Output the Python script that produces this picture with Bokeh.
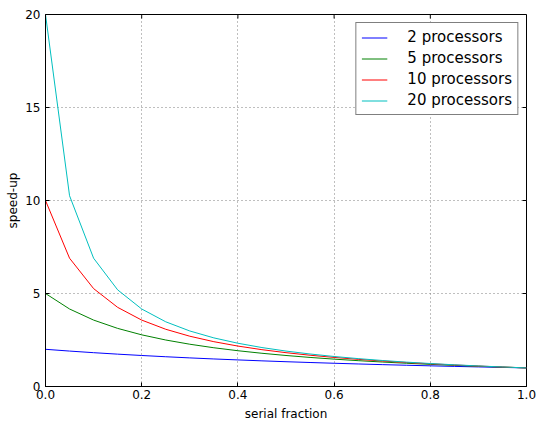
import math
from bokeh.plotting import figure
from bokeh.models import Range1d, FixedTicker, Legend, LegendItem, CustomJSTickFormatter
from bokeh.embed import file_html
from bokeh.resources import INLINE

serial_fraction = [0.0, 0.05, 0.1, 0.15, 0.2, 0.25, 0.3, 0.35, 0.4, 0.45, 0.5,
                   0.55, 0.6, 0.65, 0.7, 0.75, 0.8, 0.85, 0.9, 0.95, 1.0]
speedup_2 = [2.0, 1.905, 1.818, 1.739, 1.667, 1.6, 1.538, 1.481, 1.429, 1.379, 1.333,
             1.29, 1.25, 1.212, 1.176, 1.143, 1.111, 1.081, 1.053, 1.026, 1.0]
speedup_5 = [5.0, 4.167, 3.571, 3.125, 2.778, 2.5, 2.273, 2.083, 1.923, 1.786, 1.667,
             1.563, 1.471, 1.389, 1.316, 1.25, 1.19, 1.136, 1.087, 1.042, 1.0]
speedup_10 = [10.0, 6.897, 5.263, 4.255, 3.571, 3.077, 2.703, 2.41, 2.174, 1.98, 1.818,
              1.681, 1.563, 1.46, 1.37, 1.29, 1.22, 1.156, 1.099, 1.047, 1.0]
speedup_20 = [20.0, 10.256, 6.897, 5.195, 4.167, 3.478, 2.985, 2.614, 2.326, 2.094, 1.905,
              1.748, 1.613, 1.499, 1.399, 1.311, 1.235, 1.166, 1.105, 1.05, 1.0]
series_labels = ["2 processors", "5 processors", "10 processors", "20 processors"]
x_ticks = [0.0, 0.2, 0.4, 0.6, 0.8, 1.0]
y_ticks = [0, 5, 10, 15, 20]
x_min, x_max = 0, 1
y_min, y_max = 0, 20

colors = ["#0000ff", "#008000", "#ff0000", "#00bfbf"]
FONT = "DejaVu Sans"

p = figure(width=537, height=423, output_backend="svg", toolbar_location=None,
           x_range=Range1d(x_min, x_max), y_range=Range1d(y_min, y_max),
           min_border_left=45, min_border_top=14, min_border_right=11, min_border_bottom=37)
p.background_fill_color = "white"
p.border_fill_color = "white"
p.outline_line_color = "black"
p.outline_line_width = 1

xt = FixedTicker(ticks=x_ticks)
yt = FixedTicker(ticks=y_ticks)

for ax, t in ((p.xaxis[0], xt), (p.yaxis[0], yt)):
    ax.ticker = t
    ax.major_tick_in = 4
    ax.major_tick_out = 0
    ax.minor_tick_line_color = None
    ax.axis_line_color = "black"
    ax.major_label_text_font = FONT
    ax.major_label_text_font_size = "12px"
    ax.major_label_text_color = "black"
    ax.axis_label_text_font = FONT
    ax.axis_label_text_font_size = "12px"
    ax.axis_label_text_font_style = "normal"
    ax.axis_label_text_color = "black"

p.xaxis[0].major_label_standoff = 3
p.xaxis[0].axis_label_standoff = 5
p.yaxis[0].major_label_standoff = 5
p.yaxis[0].axis_label_standoff = 2
p.xaxis[0].axis_label = "serial fraction"
p.yaxis[0].axis_label = "speed-up"
p.xaxis[0].formatter = CustomJSTickFormatter(code="return tick.toFixed(1);")
p.yaxis[0].major_label_orientation = "horizontal"

# inward tick marks on the top and right edges
p.ray(x_ticks, [y_max] * len(x_ticks), length=4, length_units="screen",
      angle=-math.pi / 2, line_color="black", line_width=1)
p.ray([x_max] * len(y_ticks), y_ticks, length=4, length_units="screen",
      angle=math.pi, line_color="black", line_width=1)

p.xgrid.ticker = xt
p.ygrid.ticker = yt
for g in (p.xgrid[0], p.ygrid[0]):
    g.grid_line_color = "#7f7f7f"
    g.grid_line_dash = "1 3"
    g.grid_line_width = 1

ys = [speedup_2, speedup_5, speedup_10, speedup_20]
items = []
for lab, y, c in zip(series_labels, ys, colors):
    r = p.line(serial_fraction, y, line_color=c, line_width=1)
    items.append(LegendItem(label=lab, renderers=[r]))

legend = Legend(items=items, location="top_right")
legend.label_text_font = FONT
legend.label_text_font_size = "15px"
legend.label_text_color = "black"
legend.border_line_color = "black"
legend.border_line_width = 1
legend.background_fill_alpha = 1
legend.padding = 5
legend.spacing = 3
legend.margin = 8
legend.glyph_width = 26
legend.glyph_height = 17
legend.label_height = 17
legend.label_standoff = 20
p.add_layout(legend)

open("out.html", "w").write(file_html(p, INLINE))
